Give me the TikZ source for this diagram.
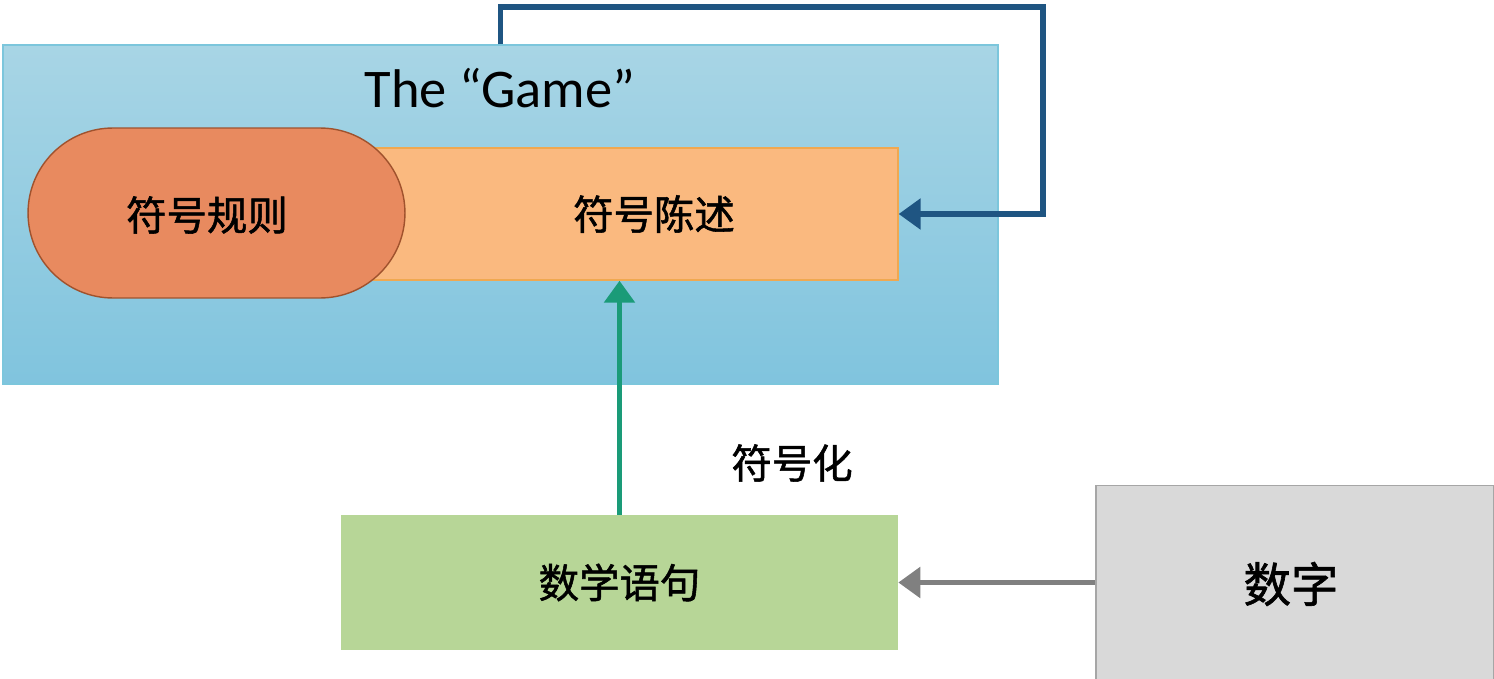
\documentclass[tikz,border=0pt]{standalone}
\usepackage{fontspec}
\setmainfont{Carlito}
\newfontfamily\cjk{Noto Sans CJK SC}[FakeBold=1.3]
\usetikzlibrary{arrows.meta}
\definecolor{gameTop}{HTML}{A8D5E5}
\definecolor{gameBot}{HTML}{80C4DE}
\definecolor{gameLine}{HTML}{7CC6DC}
\definecolor{loopBlue}{HTML}{1F5582}
\definecolor{ruleFill}{HTML}{E88A5F}
\definecolor{ruleLine}{HTML}{A0522D}
\definecolor{stmtFill}{HTML}{FAB97F}
\definecolor{stmtLine}{HTML}{F0A850}
\definecolor{symGreen}{HTML}{1A9B78}
\definecolor{sentFill}{HTML}{B7D697}
\definecolor{digitFill}{HTML}{D9D9D9}
\definecolor{digitLine}{HTML}{A6A6A6}
\tikzset{
	zh/.style={font=\cjk\fontsize{23}{26}\selectfont},
	box/.style={inner sep=0pt, zh},
	flow/.style={line width=3.4pt, -{Triangle[length=0.44cm,width=0.6cm]}}
}
\begin{document}
\begin{tikzpicture}[x=0.02cm,y=-0.02cm]
	\useasboundingbox (0,0) rectangle (1494,679);
	% the game
	\node[box, minimum width=19.9cm, minimum height=6.78cm, top color=gameTop, bottom color=gameBot, draw=gameLine, line width=0.8pt] (game) at (500.5,214.5) {};
	\node[font=\fontsize{31}{36}\selectfont] (title) at (500,88) {The “Game”};
	\node[box, minimum width=10.56cm, minimum height=2.64cm, fill=stmtFill, draw=stmtLine, line width=0.8pt] (stmt) at (634,214) {};
	\node[box] (stmttext) at (654,214) {符号陈述};
	\node[box, minimum width=7.54cm, minimum height=3.4cm, rounded corners=1.7cm, fill=ruleFill, draw=ruleLine, line width=0.8pt] (rule) at (216.5,213) {};
	\node[box] (ruletext) at (207,215) {符号规则};
	% below
	\node[box, minimum width=11.14cm, minimum height=2.7cm, fill=sentFill] (sent) at (619.5,582.5) {数学语句};
	\node[box, minimum width=7.96cm, minimum height=4.3cm, fill=digitFill, draw=digitLine, line width=0.8pt] (digit) at (1295,593) {};
	\node[box, font=\cjk\fontsize{27}{30}\selectfont] (digittext) at (1291,584) {数字};
	\node[zh] (symlabel) at (792,463) {符号化};
	\path (1043,7) coordinate (turn);
	% arrows
	\draw[flow, loopBlue] (game.north) |- (turn) |- (stmt.east);
	\draw[flow, symGreen] (sent.north) -- (sent.north |- stmt.south);
	\draw[flow, gray] (sent.east -| digit.west) -- (sent.east);
\end{tikzpicture}
\end{document}
